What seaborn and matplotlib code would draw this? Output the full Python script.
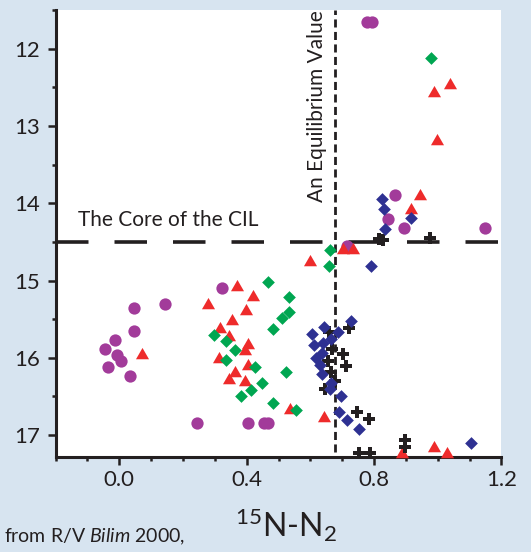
import numpy as np
import pandas as pd
import matplotlib
matplotlib.use("Agg")
import matplotlib.pyplot as plt
from matplotlib.ticker import MultipleLocator, FixedLocator
import seaborn as sns

# 15N-N2 against sigma-t depth, R/V Bilim cruise 2000
purple_x = [0.047, 0.142, 0.047, -0.015, -0.044, -0.008, 0.004, -0.035, 0.034, 0.323,
            0.245, 0.405, 0.455, 0.468, 0.779, 0.795, 0.866, 0.843, 0.894, 1.149, 0.715]
purple_y = [15.35, 15.30, 15.65, 15.77, 15.89, 15.96, 16.04, 16.12, 16.23, 15.10,
            16.85, 16.85, 16.85, 16.85, 11.65, 11.65, 13.90, 14.20, 14.32, 14.32, 14.55]

red_x = [0.371, 0.280, 0.421, 0.397, 0.353, 0.315, 0.345, 0.404, 0.394, 0.312,
         0.404, 0.364, 0.345, 0.394, 0.537, 0.643, 0.600, 0.070, 0.704, 0.735,
         0.945, 0.916, 1.039, 0.989, 0.999, 0.887, 0.987, 1.029]
red_y = [15.09, 15.32, 15.21, 15.40, 15.53, 15.63, 15.73, 15.83, 15.91, 16.01,
         16.10, 16.20, 16.29, 16.31, 16.67, 16.78, 14.76, 15.97, 14.60, 14.60,
         13.91, 14.09, 12.47, 12.57, 13.20, 17.25, 17.17, 17.24]

green_x = [0.467, 0.534, 0.534, 0.510, 0.484, 0.298, 0.334, 0.364, 0.334, 0.425,
           0.522, 0.448, 0.413, 0.383, 0.484, 0.554, 0.662, 0.660, 0.979]
green_y = [15.02, 15.21, 15.41, 15.49, 15.63, 15.70, 15.78, 15.90, 16.03, 16.12,
           16.19, 16.32, 16.42, 16.50, 16.59, 16.68, 14.60, 14.81, 12.12]

blue_x = [0.727, 0.644, 0.605, 0.686, 0.665, 0.613, 0.641, 0.636, 0.617, 0.631,
          0.636, 0.665, 0.662, 0.697, 0.690, 0.715, 0.752, 1.105, 0.825, 0.830,
          0.917, 0.835, 0.791]
blue_y = [15.52, 15.60, 15.69, 15.66, 15.76, 15.84, 15.81, 15.94, 16.00, 16.09,
          16.21, 16.33, 16.41, 16.50, 16.70, 16.80, 16.92, 17.10, 13.94, 14.07,
          14.19, 14.33, 14.81]

black_x = [0.722, 0.659, 0.667, 0.704, 0.711, 0.655, 0.665, 0.678, 0.645, 0.746,
           0.783, 0.752, 0.786, 0.896, 0.896, 0.814, 0.829, 0.976]
black_y = [15.61, 15.67, 15.89, 15.95, 16.10, 16.04, 16.18, 16.30, 16.41, 16.70,
           16.79, 17.23, 17.23, 17.06, 17.16, 14.46, 14.47, 14.45]

x_tick_values = [0.0, 0.4, 0.8, 1.2]
x_tick_labels = ["0.0", "0.4", "0.8", "1.2"]
y_tick_values = [12, 13, 14, 15, 16, 17]
y_tick_labels = ["12", "13", "14", "15", "16", "17"]

equilibrium_value = 0.676
cil_core = 14.5

sns.set_theme(style="ticks")
plt.rcParams["font.family"] = ["Lato", "DejaVu Sans"]
plt.rcParams["mathtext.fontset"] = "custom"
plt.rcParams["mathtext.rm"] = "Lato"
plt.rcParams["mathtext.it"] = "Lato:italic"

bg = "#d7e4f0"
ink = "#231f20"

frames = []
for name, xs, ys in [("purple", purple_x, purple_y), ("red", red_x, red_y),
                     ("green", green_x, green_y), ("black", black_x, black_y),
                     ("blue", blue_x, blue_y)]:
    frames.append(pd.DataFrame({"n15": xs, "depth": ys, "series": name}))
df = pd.concat(frames, ignore_index=True)

tri = [(-1.0, -0.577), (1.0, -0.577), (0.0, 1.155)]
styles = {
    "purple": dict(marker="o", color="#a23b9a", s=78),
    "red": dict(marker=tri, color="#ee2b2b", s=118),
    "green": dict(marker="D", color="#00a651", s=42),
    "black": dict(marker="P", color=ink, s=70),
    "blue": dict(marker="D", color="#2e3192", s=42),
}

fig = plt.figure(figsize=(5.31, 5.52), dpi=100, facecolor=bg)
ax = fig.add_axes([0.1047, 0.1726, 0.8396, 0.8093])
ax.set_facecolor("white")

ax.axhline(cil_core, color=ink, lw=2.6, ls=(0, (9.0, 7.2)), zorder=1)
ax.axvline(equilibrium_value, ymin=0.0105, ymax=1.0, color=ink, lw=2.0,
           ls=(0, (2.9, 1.6)), zorder=1)

for i, (name, st) in enumerate(styles.items()):
    sub = df[df["series"] == name]
    sns.scatterplot(data=sub, x="n15", y="depth", marker=st["marker"],
                    color=st["color"], s=st["s"], linewidth=0, legend=False,
                    ax=ax, zorder=3 + i, clip_on=False)

ax.set_xlim(-0.2, 1.2)
ax.set_ylim(17.28, 11.5)

ax.xaxis.set_major_locator(FixedLocator(x_tick_values))
ax.set_xticklabels(x_tick_labels)
ax.xaxis.set_minor_locator(MultipleLocator(0.1))
ax.yaxis.set_major_locator(FixedLocator(y_tick_values))
ax.set_yticklabels(y_tick_labels)
ax.yaxis.set_minor_locator(MultipleLocator(0.5))

for side in ["top", "right"]:
    ax.spines[side].set_visible(False)
for side in ["left", "bottom"]:
    ax.spines[side].set_linewidth(2.2)
    ax.spines[side].set_color(ink)

ax.tick_params(axis="both", which="major", length=5.5, width=1.8, color=ink,
               labelsize=16, labelcolor=ink, pad=4)
ax.tick_params(axis="both", which="minor", length=3.2, width=1.8, color=ink)
ax.tick_params(axis="y", which="major", pad=6)
ax.set_xlabel("")
ax.set_ylabel("")

ax.text(-0.129, 14.29, "The Core of the CIL", fontsize=15, color=ink,
        ha="left", va="baseline", zorder=2)
ax.text(0.641, 13.98, "An Equilibrium Value", fontsize=15, color=ink,
        rotation=90, rotation_mode="anchor", ha="left", va="baseline", zorder=2)

fig.text(286 / 531, 1 - 536.7 / 552, r"$^{15}$N-N$_2$", fontsize=23,
         color=ink, ha="center", va="baseline")
fig.text(4.5 / 531, 1 - 542.7 / 552, r"from R/V $\mathit{Bilim}$ 2000,",
         fontsize=14, color=ink, ha="left", va="baseline")

fig.savefig("out.png", dpi=100, facecolor=bg)
